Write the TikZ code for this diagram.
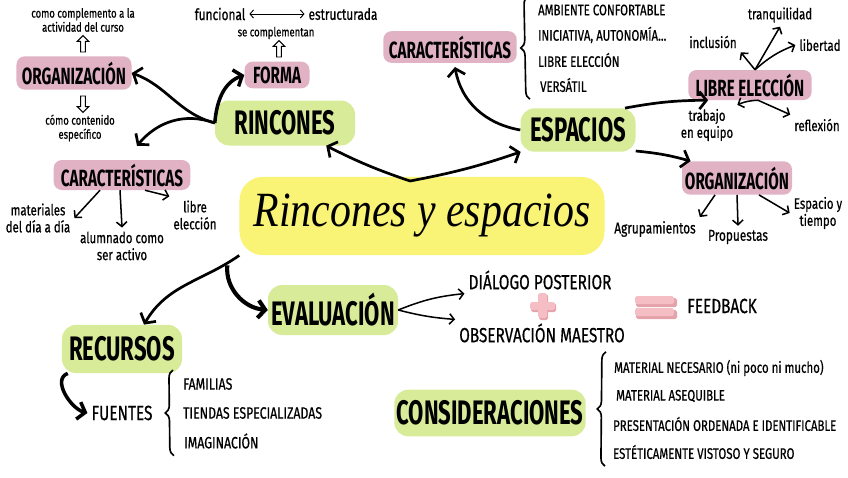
\documentclass[tikz,border=0pt]{standalone}
\usepackage{fontspec}
\newfontfamily\hand[FakeStretch=0.75,FakeBold=0.6]{Fira Sans}
\newfontfamily\handhead[FakeStretch=0.65]{Fira Sans}
\newfontfamily\scripty[FakeStretch=0.85]{Liberation Serif}
\usetikzlibrary{arrows.meta,calc,shapes.arrows,decorations.pathreplacing}
\definecolor{brushgreen}{RGB}{216,235,152}
\definecolor{brushpink}{RGB}{224,178,196}
\definecolor{brushyellow}{RGB}{249,243,118}
\definecolor{signpink}{RGB}{244,190,196}
\definecolor{signshade}{RGB}{228,162,170}

\begin{document}
\begin{tikzpicture}[
  x=0.03cm,y=0.03cm,
  greenbrush/.style={fill=brushgreen,rounded corners=12pt,inner sep=2pt,
                     font=\handhead\bfseries\fontsize{29}{31}\selectfont},
  pinkbrush/.style={fill=brushpink,rounded corners=7pt,inner sep=2pt,
                    font=\handhead\bfseries\fontsize{20}{22}\selectfont},
  lbl/.style={align=center,font=\hand\fontsize{13}{14.5}\selectfont},
  note/.style={align=center,font=\hand\fontsize{10.8}{12}\selectfont},
  listitem/.style={anchor=west,font=\hand\fontsize{13}{15}\selectfont},
  caps/.style={font=\hand\fontsize{17.5}{19}\selectfont},
  arr/.style={-{Straight Barb[length=6pt,width=15pt]},line width=2.3pt},
  thinarr/.style={-{Straight Barb[length=4pt,width=9pt]},line width=1.3pt},
  hollow/.style={single arrow,draw,line width=0.8pt,fill=white,
                 minimum height=14pt,minimum width=10pt,
                 single arrow head extend=2pt,inner sep=1pt},
  brace/.style={decorate,decoration={brace,amplitude=7pt},line width=1.4pt}
]
  \useasboundingbox (0,0) rectangle (848,-477);

  % centre
  \node[fill=brushyellow,rounded corners=20pt,minimum width=10.95cm,
        minimum height=2.35cm,font=\scripty\itshape\fontsize{42}{46}\selectfont]
    (title) at (422,-216) {Rincones y espacios};

  % main branches
  \node[greenbrush,minimum width=4.2cm,minimum height=1.35cm]  (rinc) at (285,-123) {RINCONES};
  \node[greenbrush,minimum width=3.45cm,minimum height=1.3cm]  (esp)  at (578,-130) {ESPACIOS};
  \node[greenbrush,minimum width=3.9cm,minimum height=1.5cm]   (eval) at (333,-310) {EVALUACIÓN};
  \node[greenbrush,minimum width=3.6cm,minimum height=1.45cm]  (recu) at (122,-349) {RECURSOS};
  \node[greenbrush,minimum width=5.7cm,minimum height=1.4cm]   (cons) at (490,-413) {CONSIDERACIONES};

  % rincones
  \node[pinkbrush,minimum width=3.45cm,minimum height=1cm]  (orgL)  at (74,-73)   {ORGANIZACIÓN};
  \node[pinkbrush,minimum width=1.95cm,minimum height=0.8cm] (forma) at (277,-75)  {FORMA};
  \node[pinkbrush,minimum width=4.1cm,minimum height=0.9cm]   (carL)  at (122,-175) {CARACTERÍSTICAS};

  \node[note] (compl) at (83,-20) {como complemento a la\\actividad del curso};
  \node[hollow,shape border rotate=90]  (upL)   at (83,-45) {};
  \node[hollow,shape border rotate=270] (downL) at (83,-103) {};
  \node[note] (cont) at (80,-128) {cómo contenido\\específico};

  \node[lbl,font=\hand\fontsize{13.5}{15}\selectfont] (func) at (220,-14) {funcional};
  \node[lbl,font=\hand\fontsize{13.5}{15}\selectfont] (estr) at (343,-14) {estructurada};
  \node[note] (secomp) at (276,-33) {se complementan};
  \node[hollow,shape border rotate=90] (upF) at (279,-50) {};

  \node[lbl] (mat)  at (38,-218)  {materiales\\del día a día};
  \node[lbl] (alum) at (122,-246) {alumnado como\\ser activo};
  \node[lbl] (lib)  at (195,-215) {libre\\elección};

  % espacios
  \node[pinkbrush,minimum width=4cm,minimum height=0.95cm] (carT)  at (450,-47)  {CARACTERÍSTICAS};
  \node[pinkbrush,minimum width=3.7cm,minimum height=0.9cm]  (libre) at (750,-85)  {LIBRE ELECCIÓN};
  \node[pinkbrush,minimum width=3.3cm,minimum height=1cm]    (orgR)  at (737,-178) {ORGANIZACIÓN};

  \node[listitem] (amb)  at (534,-10) {AMBIENTE CONFORTABLE};
  \node[listitem] (inic) at (534,-35) {INICIATIVA, AUTONOMÍA...};
  \node[listitem] (libE) at (534,-60) {LIBRE ELECCIÓN};
  \node[listitem] (vers) at (536,-85) {VERSÁTIL};

  \node[lbl] (inc)   at (713,-42)  {inclusión};
  \node[lbl] (tranq) at (780,-15)  {tranquilidad};
  \node[lbl] (libt)  at (820,-45)  {libertad};
  \node[lbl] (trab)  at (707,-125) {trabajo\\en equipo};
  \node[lbl] (refl)  at (817,-125) {reflexión};

  \node[lbl,font=\hand\fontsize{13.5}{15}\selectfont] (agr)  at (655,-229) {Agrupamientos};
  \node[lbl,font=\hand\fontsize{13.5}{15}\selectfont] (prop) at (738,-237) {Propuestas};
  \node[lbl] (espt) at (818,-213) {Espacio y\\tiempo};

  % evaluacion
  \node[caps] (dial) at (540,-280) {DIÁLOGO POSTERIOR};
  \node[caps] (obs)  at (542,-333) {OBSERVACIÓN MAESTRO};
  \node[caps] (feed) at (722,-306) {FEEDBACK};

  % recursos
  \node[caps] (fuen) at (122,-413) {FUENTES};
  \node[listitem,font=\hand\fontsize{14}{16}\selectfont] (fam)  at (179,-384) {FAMILIAS};
  \node[listitem,font=\hand\fontsize{14}{16}\selectfont] (tien) at (179,-413) {TIENDAS ESPECIALIZADAS};
  \node[listitem,font=\hand\fontsize{14}{16}\selectfont] (imag) at (180,-441) {IMAGINACIÓN};

  % consideraciones
  \node[listitem] (mnec) at (610,-368) {MATERIAL NECESARIO (ni poco ni mucho)};
  \node[listitem] (mase) at (612,-396) {MATERIAL ASEQUIBLE};
  \node[listitem] (pres) at (609,-424) {PRESENTACIÓN ORDENADA E IDENTIFICABLE};
  \node[listitem] (este) at (609,-452) {ESTÉTICAMENTE VISTOSO Y SEGURO};

  % plus and equal signs
  \fill[signshade,rounded corners=1.5pt] (539,-294) rectangle (548,-320);
  \fill[signshade,rounded corners=1.5pt] (531,-303) rectangle (556,-312);
  \fill[signpink,rounded corners=1.5pt] (538,-293) rectangle (547,-318);
  \fill[signpink,rounded corners=1.5pt] (530,-302) rectangle (555,-310);
  \fill[signshade,rounded corners=1.5pt] (636,-298) rectangle (677,-307);
  \fill[signshade,rounded corners=1.5pt] (636,-310) rectangle (677,-319);
  \fill[signpink,rounded corners=1.5pt] (635,-296) rectangle (674,-304);
  \fill[signpink,rounded corners=1.5pt] (635,-308) rectangle (674,-316);

  % connectors from the centre
  \coordinate (vt) at (410,-181);
  \draw[arr] (vt) to[bend left=4] (rinc);
  \draw[arr] (vt) to[bend right=4] (esp);
  \draw[arr] (title.south west) to[out=215,in=60] ($(recu.north)+(22,0)$);
  \draw[arr,line width=3.5pt] ($(title.south west)+(-12,-10)$) to[out=-95,in=175] (eval.west);

  % rincones
  \draw[arr] (rinc.west) to[out=165,in=-20] (orgL.east);
  \draw[arr] (rinc.west) to[out=160,in=50] ($(carL.north)+(15,14)$);
  \draw[arr,line width=3pt] (rinc.west) to[out=85,in=200] (forma.west);
  \draw[{Straight Barb[length=3pt,width=7pt]}-{Straight Barb[length=3pt,width=7pt]},
        line width=0.8pt] (func) -- (estr);
  \draw[thinarr] ($(carL.south)+(-22,0)$) -- (mat.east);
  \draw[thinarr] ($(carL.south)+(-2,0)$) -- (alum.north);
  \draw[thinarr] ($(carL.south)+(23,0)$) -- (lib.north west);

  % espacios
  \draw[arr] (esp.west) to[out=170,in=-80] ($(carT.south)+(5,-4)$);
  \draw[arr] (esp.25) to[bend left=5] (libre.200);
  \draw[arr] (esp.-20) to[bend left=5] (orgR.160);
  \draw[brace] ($(vers.south west)+(-6,-3)$) -- ($(amb.north west)+(-6,4)$);
  \draw[thinarr] ($(libre.north)+(5,0)$) -- (inc.south east);
  \draw[thinarr] ($(libre.north)+(5,0)$) -- (tranq.south);
  \draw[thinarr] ($(libre.north)+(5,0)$) to[bend left=10] (libt.west);
  \draw[thinarr] ($(libre.south)+(8,0)$) to[bend right=10] (trab.north east);
  \draw[thinarr] ($(libre.south)+(8,0)$) -- (refl.north west);
  \draw[thinarr] ($(orgR.south)+(-22,0)$) -- (agr.north east);
  \draw[thinarr] ($(orgR.south)+(0,0)$) -- (prop.north);
  \draw[thinarr] ($(orgR.south)+(22,0)$) -- (espt.west);

  % evaluacion
  \draw[thinarr] (eval.east) to[bend left=8] (dial.south west);
  \draw[thinarr] (eval.east) to[bend right=5] (obs.north west);

  % recursos
  \draw[arr,line width=3pt] ($(recu.south west)+(6,0)$) to[out=200,in=165] (fuen.west);
  \draw[brace] ($(imag.south west)+(-6,-3)$) -- ($(fam.north west)+(-6,4)$);

  % consideraciones
  \draw[brace] ($(este.south west)+(-4,-3)$) -- ($(mnec.north west)+(-4,4)$);
\end{tikzpicture}
\end{document}
